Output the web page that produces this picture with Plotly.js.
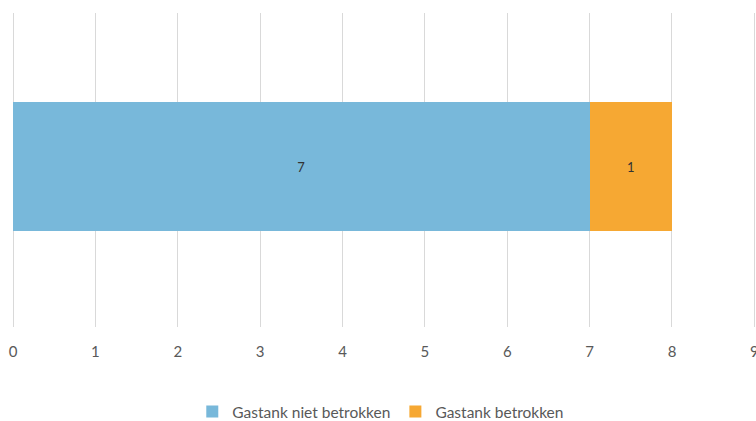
<!DOCTYPE html>
<html>
<head>
<meta charset="utf-8">
<script src="https://cdn.plot.ly/plotly-3.0.1.min.js"></script>
<style>html,body{margin:0;padding:0;background:#fff;}#chart{width:756px;height:421px;}</style>
</head>
<body>
<div id="chart"></div>
<script>
const categories = [0];
const seriesNames = ["Gastank niet betrokken", "Gastank betrokken"];
const nietBetrokken = [7];
const betrokken = [1];
const xTickValues = [0, 1, 2, 3, 4, 5, 6, 7, 8, 9];

const colors = ["#78b8da", "#f6a833"];
const seriesValues = [nietBetrokken, betrokken];

const traces = seriesValues.map((vals, i) => ({
  type: "bar",
  orientation: "h",
  name: seriesNames[i],
  y: categories,
  x: vals,
  text: vals.map(String),
  textposition: "inside",
  insidetextanchor: "middle",
  textangle: 0,
  textfont: {family: "Lato, 'Open Sans', sans-serif", size: 13, color: "#333333"},
  marker: {color: colors[i], line: {width: 0}},
  hoverinfo: "none"
}));

const layout = {
  width: 756,
  height: 421,
  barmode: "stack",
  bargap: 0.589,
  margin: {l: 13, r: 0, t: 13, b: 94, autoexpand: false},
  paper_bgcolor: "#ffffff",
  plot_bgcolor: "#ffffff",
  showlegend: true,
  font: {family: "Lato, 'Open Sans', sans-serif", color: "#595959", size: 14},
  xaxis: {
    range: [0, 9.02],
    tickvals: xTickValues,
    ticktext: xTickValues.map(String),
    showgrid: true,
    gridcolor: "#d9d9d9",
    gridwidth: 1,
    zeroline: true,
    zerolinecolor: "#d9d9d9",
    zerolinewidth: 1,
    showline: false,
    ticks: "",
    ticklabelstandoff: 14,
    ticklabeloverflow: "allow",
    tickfont: {size: 15, color: "#595959"},
    automargin: false,
    fixedrange: true
  },
  yaxis: {
    range: [-0.511, 0.489],
    showticklabels: false,
    showgrid: false,
    zeroline: false,
    showline: false,
    ticks: "",
    automargin: false,
    fixedrange: true
  },
  legend: {
    orientation: "h",
    x: 0.495,
    xanchor: "center",
    y: -0.2707,
    yanchor: "middle",
    traceorder: "normal",
    font: {size: 15.5, color: "#595959"},
    itemwidth: 30
  }
};

Plotly.newPlot("chart", traces, layout, {displayModeBar: false, staticPlot: true});
</script>
</body>
</html>
